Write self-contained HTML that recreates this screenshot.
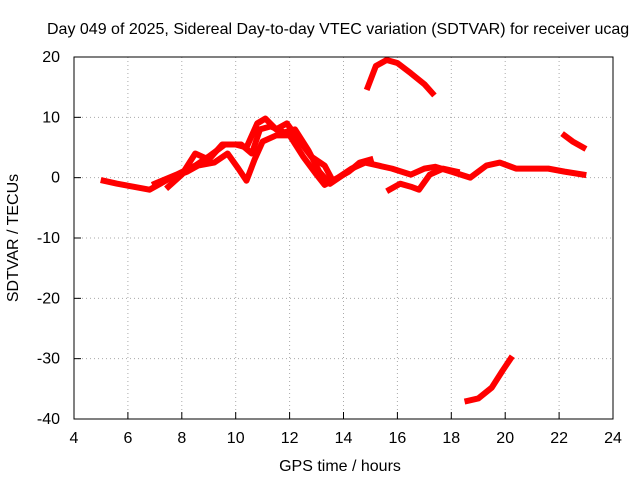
<!DOCTYPE html>
<html><head><meta charset="utf-8"><style>
body{margin:0;background:#fff;width:640px;height:480px;overflow:hidden}
text{font-family:"Liberation Sans",sans-serif;font-size:16px;fill:#000}
</style></head><body>
<svg id="chart" width="640" height="480">
<text x="47" y="34" text-anchor="start">Day 049 of 2025, Sidereal Day-to-day VTEC variation (SDTVAR) for receiver ucag</text>
<text x="340" y="471" text-anchor="middle">GPS time / hours</text>
<text transform="translate(18,238) rotate(-90)" text-anchor="middle">SDTVAR / TECUs</text>
<g id="grid"></g><g id="series"></g>
<rect x="74" y="57" width="539" height="362" fill="none" stroke="#000"/>
</svg>
<script>
const xTicks=[4,6,8,10,12,14,16,18,20,22,24];
const yTicks=[-40,-30,-20,-10,0,10,20];
const seriesA=[[5.1,-0.5],[5.6,-1],[6.2,-1.5],[6.8,-2],[7.2,-1],[7.6,0],[8.2,1],[8.6,2],[9.2,2.5],[9.7,4],[10.1,1.5],[10.4,-0.5],[10.7,3],[11,6],[11.5,7],[12,7],[12.5,3.5],[13,0.5],[13.3,-1.2],[13.8,0],[14.3,1.5],[14.8,2.5],[15.3,2],[15.8,1.5],[16.5,0.5],[17,1.5],[17.4,1.8],[18,1],[18.7,0],[19.3,2],[19.8,2.5],[20.4,1.5],[21,1.5],[21.6,1.5],[22.2,1],[22.9,0.5]];
const seriesB=[[7.5,-1.5],[8,0.5],[8.5,4],[9,3],[9.5,5.5],[10,5.5],[10.4,5],[10.8,9],[11.1,9.8],[11.5,8],[11.9,9],[12.3,6.5],[12.8,3.5],[13.3,2],[13.6,-0.5],[14.2,1],[14.6,2.5],[15,3]];
const seriesC=[[7,-1],[7.8,0.5],[8.5,2],[9,3.5],[9.6,5.5],[10.2,5.5],[10.6,4],[10.9,8],[11.3,8.5],[11.8,7.5],[12.2,8],[12.7,4.5],[13.1,1],[13.5,-1],[14,0.5],[14.5,2]];
const seriesD=[[14.9,15],[15.2,18.5],[15.6,19.5],[16,19],[16.5,17.3],[17,15.5],[17.3,14]];
const seriesE=[[18.6,-37],[19,-36.6],[19.5,-34.8],[19.9,-32],[20.2,-30]];
const seriesF=[[22.2,7],[22.5,6],[22.9,5]];
const seriesG=[[15.7,-2],[16.1,-1],[16.5,-1.5],[16.8,-2],[17.2,0.5],[17.7,1.5],[18.2,1]];
const allSeries=[seriesA,seriesB,seriesC,seriesD,seriesE,seriesF,seriesG];
const X=v=>74+(v-4)*(539/20), Y=v=>419-(v+40)*(362/60);
const ns="http://www.w3.org/2000/svg",g=document.getElementById('grid'),s=document.getElementById('series');
function mk(tag,a,p){const e=document.createElementNS(ns,tag);for(const k in a)e.setAttribute(k,a[k]);p.appendChild(e);return e;}
xTicks.forEach(t=>{const x=X(t);
 if(t>4&&t<24){const l=mk('line',{x1:x,x2:x,y1:57,y2:419,stroke:'#aaa','stroke-dasharray':'1,3'},g);
 
 }
 const tk=mk('line',{x1:x,x2:x,y1:419,y2:412,stroke:'#000'},g);
 
 
 const tx=mk('text',{x:x,y:443,'text-anchor':'middle'},g);tx.textContent=t;
 
 });
yTicks.forEach(t=>{const y=Y(t);
 if(t>-40&&t<20){const l=mk('line',{x1:74,x2:613,y1:y,y2:y,stroke:'#aaa','stroke-dasharray':'1,3'},g);
 
 }
 const tk=mk('line',{x1:74,x2:81,y1:y,y2:y,stroke:'#000'},g);
 
 
 const tx=mk('text',{x:60,y:y+5,'text-anchor':'end'},g);tx.textContent=t;
 
 });
allSeries.forEach((d,i)=>{const p=mk('polyline',{points:d.map(q=>X(q[0])+','+Y(q[1])).join(' '),fill:'none',stroke:'#f00','stroke-width':6,'stroke-linejoin':'round','stroke-linecap':'square'},s);
 
 });
</script>
</body></html>
